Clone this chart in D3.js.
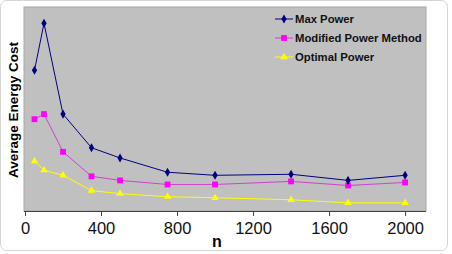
<!DOCTYPE html>
<html>
<head>
<meta charset="utf-8">
<script src="https://cdn.jsdelivr.net/npm/d3@7"></script>
<style>
  body { margin: 0; background: #fff; }
  svg { display: block; font-family: "Liberation Sans", Arial, sans-serif; }
</style>
</head>
<body>
<div id="chart"></div>
<script>
// data (y has no labels, arbitrary units)
const nValues = [50, 100, 200, 350, 500, 750, 1000, 1400, 1700, 2000];
const maxPower = [13.8, 18.4, 9.5, 6.2, 5.2, 3.8, 3.5, 3.6, 3.0, 3.5];
const modifiedPower = [9.0, 9.5, 5.8, 3.4, 3.0, 2.6, 2.6, 2.9, 2.5, 2.8];
const optimalPower = [4.9, 4.0, 3.5, 2.0, 1.7, 1.4, 1.3, 1.1, 0.8, 0.8];
const xTicks = [0, 400, 800, 1200, 1600, 2000];
const seriesNames = ["Max Power", "Modified Power Method", "Optimal Power"];

function lineChart() {
    const W = 452, H = 254;
    const plot = { left: 25, right: 426, top: 7, bottom: 211 };

    const svg = d3.select("#chart")
        .append("svg")
        .attr("width", W)
        .attr("height", H);

    // outer rounded frame
    svg.append("rect")
        .attr("x", 0.5).attr("y", 0.5)
        .attr("width", 447).attr("height", 250)
        .attr("rx", 6)
        .attr("fill", "#fff")
        .attr("stroke", "#d4d4d4");

    const xScale = d3.scaleLinear().domain([0, 2110]).range([plot.left, plot.right]);
    const yScale = d3.scaleLinear().domain([0, 20]).range([plot.bottom, plot.top]);

    // plot area
    svg.append("rect")
        .attr("x", plot.left - 1).attr("y", plot.top)
        .attr("width", plot.right - plot.left + 1).attr("height", plot.bottom - plot.top)
        .attr("fill", "#c0c0c0")
        .attr("stroke", "#a8a8a8")
        .attr("stroke-width", 1);

    // x axis
    const xAxis = svg.append("g")
        .attr("transform", `translate(0, ${plot.bottom})`)
        .call(d3.axisBottom(xScale).tickValues(xTicks).tickSize(5).tickPadding(6).tickFormat(d3.format("d")));
    xAxis.select(".domain").attr("stroke", "#404040").attr("d", `M${plot.left - 1},0.5H${plot.right}`);
    xAxis.selectAll(".tick line").attr("stroke", "#404040");
    xAxis.selectAll(".tick text").attr("font-size", "16.5px").attr("fill", "#111")
        .attr("font-family", "'Liberation Sans', Arial, sans-serif");

    // axis titles
    svg.append("text")
        .attr("x", 217).attr("y", 247)
        .attr("text-anchor", "middle")
        .attr("font-size", "16px").attr("font-weight", "bold")
        .text("n");

    svg.append("text")
        .attr("transform", "translate(18, 110) rotate(-90)")
        .attr("text-anchor", "middle")
        .attr("font-size", "13.5px").attr("font-weight", "bold")
        .text("Average Energy Cost");

    const series = [
        { name: seriesNames[0], values: maxPower, line: "#000080", fill: "#000080", shape: d3.symbolDiamond, size: 24 },
        { name: seriesNames[1], values: modifiedPower, line: "#cc44cc", fill: "#ff00ff", shape: d3.symbolSquare, size: 34 },
        { name: seriesNames[2], values: optimalPower, line: "#ffff00", fill: "#ffff00", shape: d3.symbolTriangle, size: 24 }
    ];

    const line = d3.line()
        .x((d, i) => xScale(nValues[i]))
        .y(d => yScale(d));

    // draw series back to front
    series.slice().reverse().forEach(s => {
        svg.append("path")
            .datum(s.values)
            .attr("fill", "none")
            .attr("stroke", s.line)
            .attr("stroke-width", 1)
            .attr("d", line);
        svg.append("g")
            .selectAll("path")
            .data(s.values)
            .join("path")
            .attr("transform", (d, i) => `translate(${xScale(nValues[i])}, ${yScale(d)})`)
            .attr("d", d3.symbol().type(s.shape).size(s.size))
            .attr("fill", s.fill);
    });

    // legend
    const legend = svg.append("g").attr("transform", "translate(275, 19)");
    const items = legend.selectAll("g")
        .data(series)
        .join("g")
        .attr("transform", (d, i) => `translate(0, ${i * 19})`);
    items.append("line")
        .attr("x1", 0).attr("x2", 18)
        .attr("stroke", d => d.line);
    items.append("path")
        .attr("transform", "translate(9, 0)")
        .attr("d", d => d3.symbol().type(d.shape).size(d.size)())
        .attr("fill", d => d.fill);
    items.append("text")
        .attr("x", 20).attr("dy", "0.35em")
        .attr("font-size", "11.3px").attr("font-weight", "bold")
        .attr("fill", "#111")
        .text(d => d.name);
}

lineChart();
</script>
</body>
</html>
